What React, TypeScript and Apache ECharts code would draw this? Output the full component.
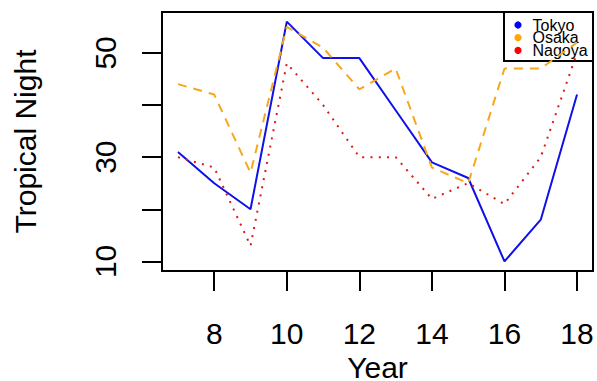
import React, { useEffect, useRef } from "react";
import * as echarts from "echarts";

const years = [7, 8, 9, 10, 11, 12, 13, 14, 15, 16, 17, 18];
const tokyo = [31, 25, 20, 56, 49, 49, 39, 29, 26, 10, 18, 42];
const osaka = [44, 42, 27, 55, 51, 43, 47, 28, 25, 47, 47, 52];
const nagoya = [30, 28, 13, 48, 40, 30, 30, 22, 25, 21, 30, 50];
const seriesNames = ["Tokyo", "Osaka", "Nagoya"];
const seriesColors = ["#0000FF", "#FFA500", "#FF0000"];
const xTicks = [8, 10, 12, 14, 16, 18];
const yTicks = [10, 20, 30, 40, 50];
const yLabels = [10, 30, 50];

const FONT = "'Liberation Sans', Arial, sans-serif";

export default function App() {
  const ref = useRef<HTMLDivElement>(null);
  useEffect(() => {
    if (!ref.current) return;
    const chart = echarts.init(ref.current, undefined, { renderer: "svg" });
    const all = [...tokyo, ...osaka, ...nagoya];
    const yMin = Math.min(...all);
    const yMax = Math.max(...all);
    const yPad = (yMax - yMin) * 0.04;
    const xMin = Math.min(...years);
    const xMax = Math.max(...years);
    const xPad = (xMax - xMin) * 0.04;
    const toPts = (vals: number[]) => years.map((y, i) => [y, vals[i]]);

    const legendX = 504;
    const legendY = 12;
    const rowH = 12.7;
    const legendChildren: any[] = [
      {
        type: "rect",
        shape: { x: 0, y: 0, width: 89, height: 49 },
        style: { fill: "#fff", stroke: "#000", lineWidth: 2 },
      },
    ];
    seriesNames.forEach((name, i) => {
      const cy = 13 + i * rowH;
      legendChildren.push({
        type: "circle",
        shape: { cx: 14, cy, r: 3.6 },
        style: { fill: seriesColors[i] },
      });
      legendChildren.push({
        type: "text",
        x: 28.5,
        y: cy,
        style: {
          text: name,
          fontSize: 16,
          lineHeight: 12,
          fontFamily: FONT,
          fill: "#000",
          verticalAlign: "middle",
          align: "left",
        },
      });
    });

    chart.setOption({
      animation: false,
      backgroundColor: "#fff",
      textStyle: { fontFamily: FONT },
      grid: {
        left: 162,
        right: 4,
        top: 12,
        bottom: 110,
        show: true,
        borderColor: "#000",
        borderWidth: 2,
        backgroundColor: "transparent",
        outerBoundsMode: "none",
        containLabel: false,
      },
      graphic: [
        {
          type: "group",
          x: legendX,
          y: legendY,
          z: 100,
          children: legendChildren,
        },
      ],
      xAxis: {
        type: "value",
        min: xMin - xPad,
        max: xMax + xPad,
        axisLine: { show: false },
        splitLine: { show: false },
        axisTick: {
          show: true,
          inside: false,
          length: 20,
          customValues: xTicks,
          lineStyle: { color: "#000", width: 2 },
        },
        axisLabel: {
          customValues: xTicks,
          fontSize: 30,
          color: "#000",
          margin: 47,
          fontFamily: FONT,
        },
        name: "Year",
        nameLocation: "middle",
        nameGap: 81,
        nameTextStyle: { fontSize: 30, color: "#000", fontFamily: FONT },
      },
      yAxis: {
        type: "value",
        min: yMin - yPad,
        max: yMax + yPad,
        axisLine: { show: false },
        splitLine: { show: false },
        axisTick: {
          show: true,
          inside: false,
          length: 20,
          customValues: yTicks,
          lineStyle: { color: "#000", width: 2 },
        },
        axisLabel: {
          customValues: yLabels,
          rotate: 90,
          fontSize: 30,
          color: "#000",
          margin: 42,
          fontFamily: FONT,
        },
        name: "Tropical Night",
        nameLocation: "middle",
        nameRotate: 90,
        nameGap: 122,
        nameTextStyle: { fontSize: 30, color: "#000", fontFamily: FONT },
      },
      series: [
        {
          name: "Tokyo",
          type: "line",
          data: toPts(tokyo),
          symbol: "none",
          showSymbol: false,
          itemStyle: { color: seriesColors[0] },
          lineStyle: { color: "#1010E8", width: 2, type: "solid" },
        },
        {
          name: "Osaka",
          type: "line",
          data: toPts(osaka),
          symbol: "none",
          showSymbol: false,
          itemStyle: { color: seriesColors[1] },
          lineStyle: { color: "#F5A81E", width: 2, type: [9, 7] },
        },
        {
          name: "Nagoya",
          type: "line",
          data: toPts(nagoya),
          symbol: "none",
          showSymbol: false,
          itemStyle: { color: seriesColors[2] },
          lineStyle: { color: "#E01818", width: 2, type: [2, 6.3] },
        },
      ],
    });
    return () => chart.dispose();
  }, []);
  return (
    <div
      ref={ref}
      style={{ position: "fixed", left: 0, top: 0, width: 597, height: 381 }}
    />
  );
}
